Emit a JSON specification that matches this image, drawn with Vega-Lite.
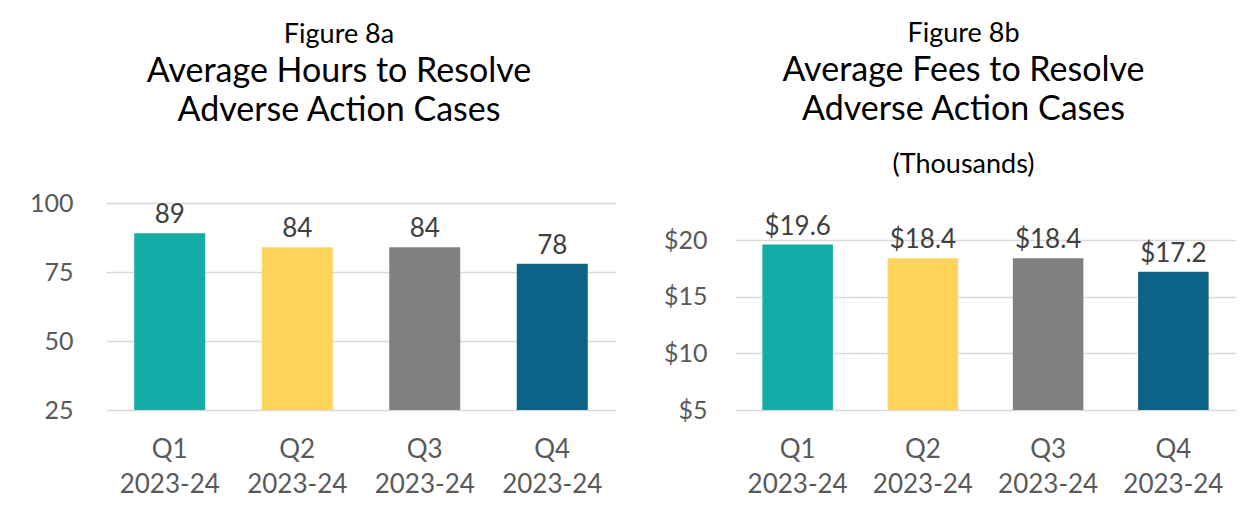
{
  "$schema": "https://vega.github.io/schema/vega-lite/v6.json",
  "padding": {"left": 26, "top": 20, "right": 0, "bottom": 0},
  "background": "white",
  "spacing": 39,
  "config": {
    "font": "Lato",
    "view": {"stroke": null},
    "title": {
      "font": "Lato", "fontSize": 27, "fontWeight": "normal", "color": "#000000",
      "subtitleFont": "Lato", "subtitleFontSize": 34, "subtitleColor": "#000000",
      "subtitleFontWeight": "normal", "subtitleLineHeight": 39, "subtitlePadding": 6,
      "anchor": "middle", "frame": "bounds"
    },
    "axisX": {
      "title": null, "labelAngle": 0, "domain": false, "ticks": false, "grid": false,
      "labelFontSize": 26, "labelColor": "#595959", "labelPadding": 26, "labelLineHeight": 35,
      "labelExpr": "split(datum.label, ' ')"
    },
    "axisY": {
      "title": null, "domain": false, "ticks": false, "grid": true, "gridColor": "#d9d9d9", "gridWidth": 1.5,
      "labelFontSize": 25, "labelColor": "#595959", "minExtent": 80, "maxExtent": 80
    }
  },
  "datasets": {
    "hours": [
      {"quarter": "Q1 2023-24", "value": 89},
      {"quarter": "Q2 2023-24", "value": 84},
      {"quarter": "Q3 2023-24", "value": 84},
      {"quarter": "Q4 2023-24", "value": 78}
    ],
    "fees": [
      {"quarter": "Q1 2023-24", "value": 19.6},
      {"quarter": "Q2 2023-24", "value": 18.4},
      {"quarter": "Q3 2023-24", "value": 18.4},
      {"quarter": "Q4 2023-24", "value": 17.2}
    ]
  },
  "hconcat": [
    {
      "title": {"text": "Figure 8a", "subtitle": ["Average Hours to Resolve", "Adverse Action Cases"], "offset": 62, "dx": 18},
      "width": 510, "height": 207,
      "data": {"name": "hours"},
      "encoding": {
        "x": {"field": "quarter", "type": "nominal", "sort": null, "scale": {"paddingInner": 0.443, "paddingOuter": 0.2215}}
      },
      "layer": [
        {
          "mark": {"type": "bar"},
          "encoding": {
            "y": {"field": "value", "type": "quantitative", "scale": {"domain": [25, 100], "zero": false, "nice": false},
                  "axis": {"values": [25, 50, 75, 100], "labelPadding": 33}},
            "y2": {"datum": 25},
            "color": {"field": "quarter", "type": "nominal", "legend": null,
                      "scale": {"domain": ["Q1 2023-24", "Q2 2023-24", "Q3 2023-24", "Q4 2023-24"], "range": ["#13aca7", "#ffd45c", "#808080", "#0b6388"]}}
          }
        },
        {
          "mark": {"type": "text", "baseline": "alphabetic", "dy": -10, "fontSize": 26, "color": "#404040"},
          "encoding": {
            "y": {"field": "value", "type": "quantitative"},
            "text": {"field": "value", "type": "quantitative", "format": "d"}
          }
        }
      ]
    },
    {
      "title": {"text": "Figure 8b", "subtitle": ["Average Fees to Resolve", "Adverse Action Cases"], "offset": 23, "dx": 18},
      "vconcat": [
        {
          "title": {"text": "(Thousands)", "offset": 24, "dx": 18},
          "width": 501, "height": 207,
          "data": {"name": "fees"},
          "encoding": {
            "x": {"field": "quarter", "type": "nominal", "sort": null, "scale": {"paddingInner": 0.437, "paddingOuter": 0.2185}}
          },
          "layer": [
            {
              "mark": {"type": "bar"},
              "encoding": {
                "y": {"field": "value", "type": "quantitative", "scale": {"domain": [5, 23.27], "zero": false, "nice": false},
                      "axis": {"values": [5, 10, 15, 20], "format": "$.0f", "labelPadding": 28}},
                "y2": {"datum": 5},
                "color": {"field": "quarter", "type": "nominal", "legend": null,
                          "scale": {"domain": ["Q1 2023-24", "Q2 2023-24", "Q3 2023-24", "Q4 2023-24"], "range": ["#13aca7", "#ffd45c", "#808080", "#0b6388"]}}
              }
            },
            {
              "mark": {"type": "text", "baseline": "alphabetic", "dy": -10, "fontSize": 26, "color": "#404040"},
              "encoding": {
                "y": {"field": "value", "type": "quantitative"},
                "text": {"field": "value", "type": "quantitative", "format": "$.1f"}
              }
            }
          ]
        }
      ]
    }
  ]
}
